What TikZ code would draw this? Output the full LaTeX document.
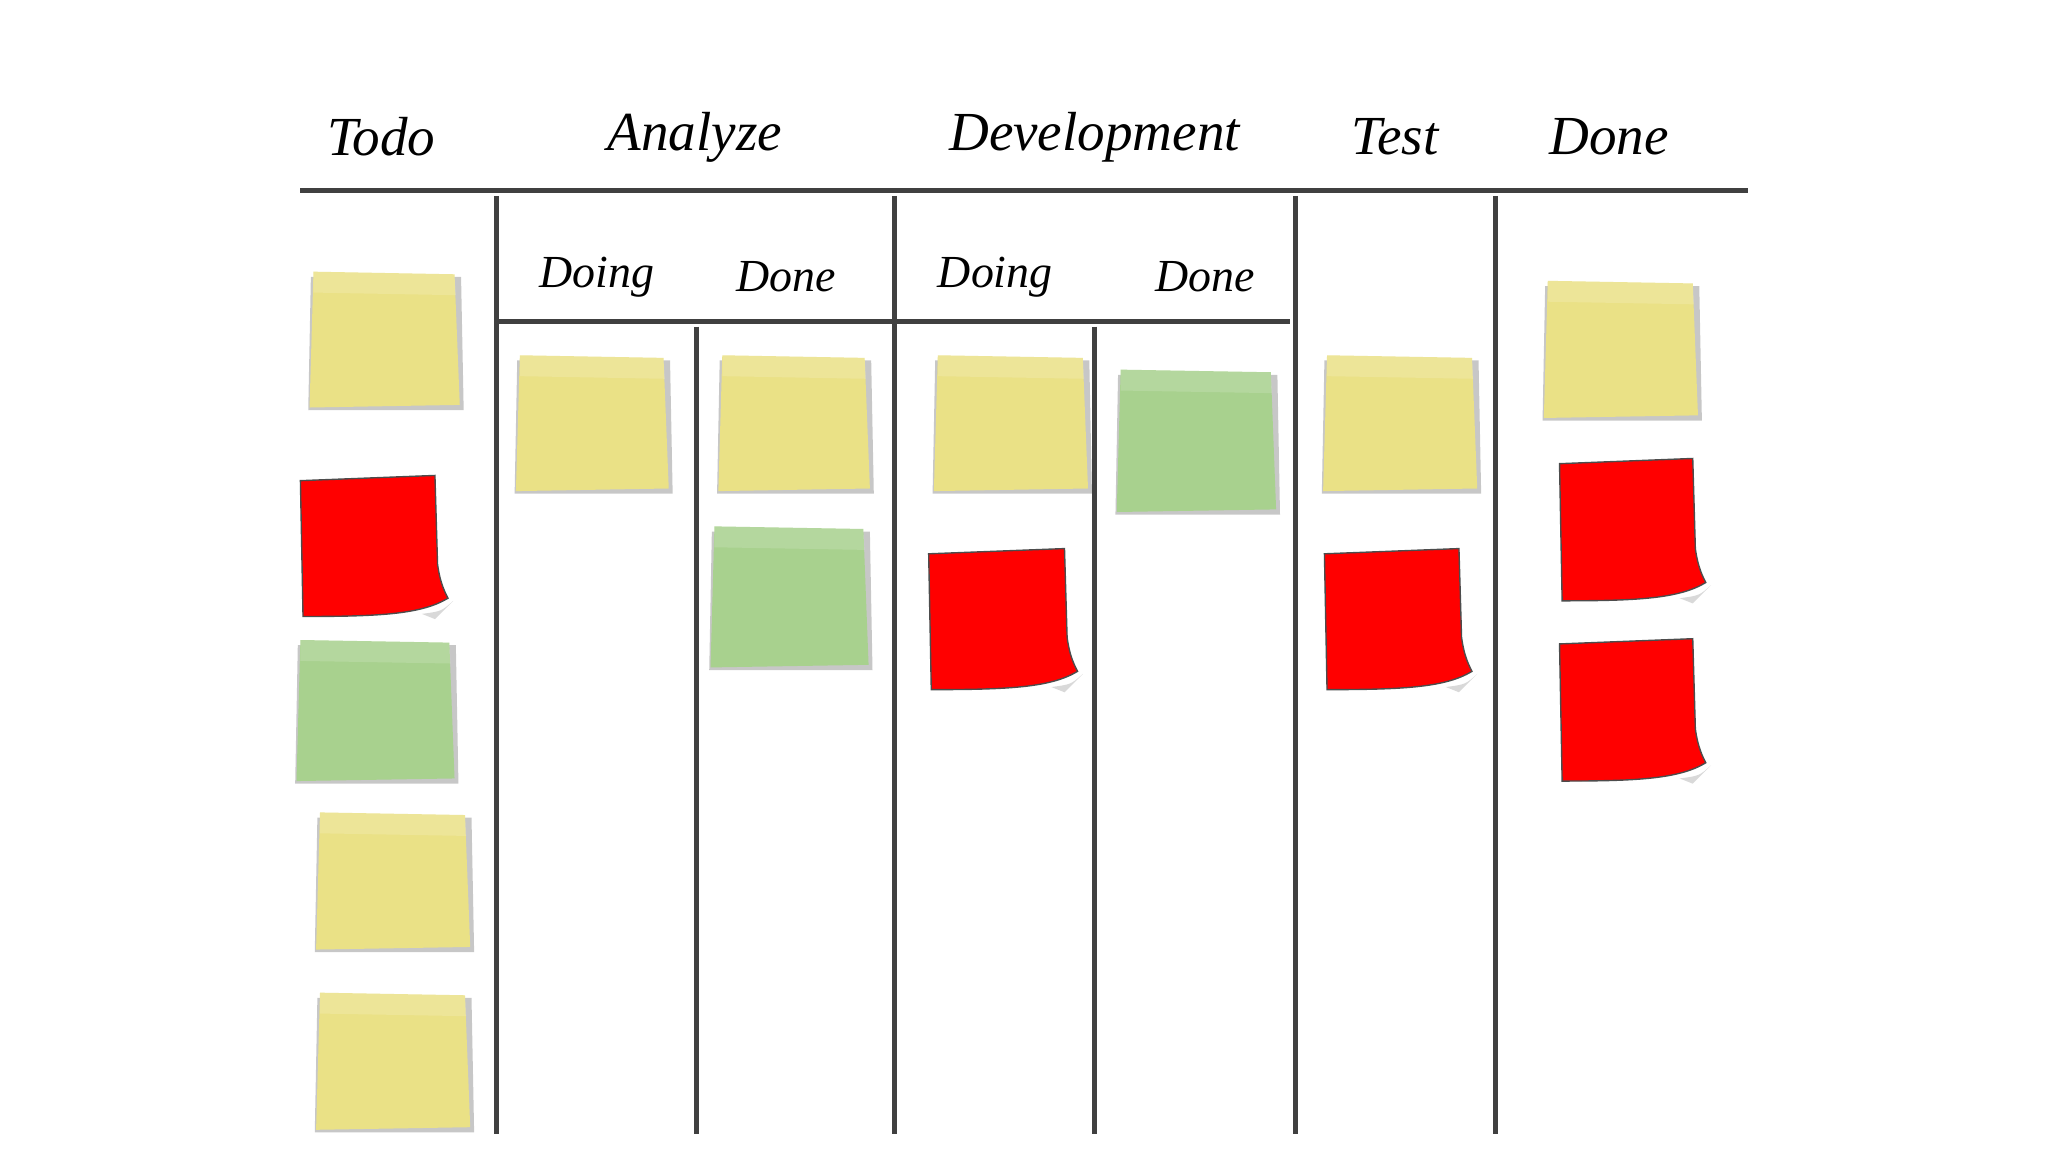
\documentclass[tikz,border=0pt]{standalone}
\usepackage{fontspec}
\setmainfont{Liberation Serif}
\begin{document}
\begin{tikzpicture}[x=0.02cm,y=-0.02cm,
  board/.style={line width=2.2pt,draw=black!75},
  head/.style={font=\fontsize{24}{24}\selectfont\itshape},
  sub/.style={font=\fontsize{20}{20}\selectfont\itshape}]
\definecolor{ny}{HTML}{EAE186}
\definecolor{ng}{HTML}{A8D18E}
\useasboundingbox (0,0) rectangle (1568,882);
% board lines
\draw[board] (230,146) -- (1338,146);
\draw[board] (380,246) -- (988,246);
\foreach \x in {380,685,992,1145} \draw[board] (\x,150) -- (\x,868);
\foreach \x in {533,838} \draw[board] (\x,250) -- (\x,868);
% headers
\node[head] (h1) at (292,105) {Todo};
\node[head] (h2) at (532,105) {Analyze};
\node[head] (h3) at (838,105) {Development};
\node[head] (h4) at (1068,105) {Test};
\node[head] (h5) at (1232,105) {Done};
\node[sub] (s1) at (457,212) {Doing};
\node[sub] (s2) at (602,212) {Done};
\node[sub] (s3) at (762,212) {Doing};
\node[sub] (s4) at (923,212) {Done};
% flat notes: x1,y1,x2,y2,color
\foreach \a/\b/\c/\d/\col in {240/208/352/312/ny, 230/490/348/598/ng, 245/622/360/727/ny, 245/760/360/865/ny,
  398/272/512/376/ny, 553/272/666/376/ny, 547/403/665/511/ng, 718/272/833/376/ny, 858/283/977/392/ng,
  1016/272/1131/376/ny, 1185/215/1300/320/ny}{
  \fill[black!22] (\a-2,\b+4) -- (\c+1,\b+4) -- (\c+3,\d+2) -- (\a-4,\d+2) -- cycle;
  \fill[\col] (\a,\b) -- (\c-4,\b+2) -- (\c,\d-2) -- (\a-3,\d) -- cycle;
  \fill[white,opacity=0.15] (\a,\b) -- (\c-4,\b+2) -- (\c-3,\b+18) -- (\a,\b+16) -- cycle;
}
% red curled notes
\foreach \a/\b/\c/\d in {230/364/343/472, 711/420/825/528, 1014/420/1127/528, 1194/351/1306/460, 1194/489/1306/598}{
  \fill[black!15] (\c-20,\d-2) .. controls (\c-5,\d-4) .. (\c+4,\d-12) -- (\c-10,\d+2) -- cycle;
  \filldraw[fill=red,draw=black!70,line width=0.6pt] (\a,\b+4) -- (\c-10,\b) -- (\c-8,\d-40)
     .. controls (\c-6,\d-25) and (\c-2,\d-18) .. (\c,\d-14)
     .. controls (\c-20,\d-2) and (\c-50,\d) .. (\a+2,\d) -- cycle;
}
\end{tikzpicture}
\end{document}
